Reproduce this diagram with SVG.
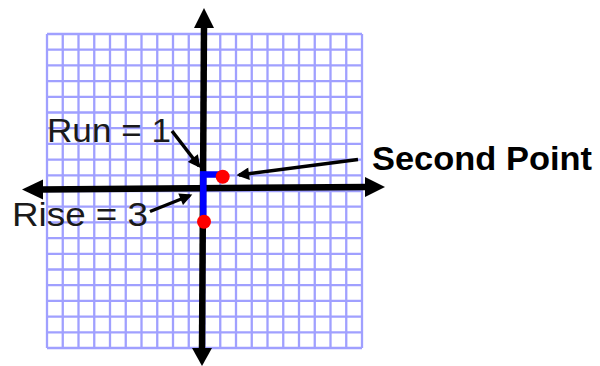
<svg xmlns="http://www.w3.org/2000/svg" width="600" height="366" viewBox="0 0 600 366">
  <style>
    .grid { stroke: #a0a0ff; stroke-width: 2.3; fill: none; }
    .axis { stroke: #000; stroke-width: 6.5; fill: none; }
    .head { fill: #000; }
    .ptr { stroke: #000; stroke-width: 3.5; fill: none; marker-end: url(#ah); }
    .lbl { font-family: "Liberation Sans", Arial, sans-serif; font-size: 33px; fill: #1a1a1a; }
    .bold { font-weight: bold; fill: #000; }
  </style>
  <defs>
    <marker id="ah" viewBox="0 0 10 10" refX="8" refY="5" markerWidth="4" markerHeight="3.6" orient="auto">
      <path d="M0,0 L10,5 L0,10 z" fill="#000"/>
    </marker>
  </defs>
  <rect width="600" height="366" fill="#fff"/>
  <g id="grid">
    <path class="grid" d="M47,34V348 M62.75,34V348 M78.5,34V348 M94.25,34V348 M110,34V348 M125.75,34V348 M141.5,34V348 M157.25,34V348 M173,34V348 M188.75,34V348 M204.5,34V348 M220.25,34V348 M236,34V348 M251.75,34V348 M267.5,34V348 M283.25,34V348 M299,34V348 M314.75,34V348 M330.5,34V348 M346.25,34V348 M362,34V348 M47,34H362 M47,49.7H362 M47,65.4H362 M47,81.1H362 M47,96.8H362 M47,112.5H362 M47,128.2H362 M47,143.9H362 M47,159.6H362 M47,175.3H362 M47,191H362 M47,206.7H362 M47,222.4H362 M47,238.1H362 M47,253.8H362 M47,269.5H362 M47,285.2H362 M47,300.9H362 M47,316.6H362 M47,332.3H362 M47,348H362"/>
  </g>
  <g id="axes">
    <line class="axis" x1="204" y1="26" x2="202" y2="350"/>
    <polygon class="head" points="204,8 214,28 194,28"/>
    <polygon class="head" points="202,366 192,348 212,348"/>
    <line class="axis" x1="40" y1="189.5" x2="368" y2="187"/>
    <polygon class="head" points="22,189.5 43,179.5 43,199.5"/>
    <polygon class="head" points="385,187 365,177 365,197"/>
  </g>
  <g id="run-rise">
    <line x1="200" y1="174.5" x2="222" y2="174.5" stroke="#0000ff" stroke-width="6.5"/>
    <line x1="203.3" y1="171.5" x2="203.3" y2="219" stroke="#0000ff" stroke-width="6.5"/>
  </g>
  <g id="second-point">
    <circle cx="222.7" cy="176.7" r="7" fill="#ff0000"/>
  </g>
  <g id="first-point">
    <circle cx="204" cy="221.7" r="7" fill="#ff0000"/>
  </g>
  <g id="connectors">
    <line class="ptr" x1="172" y1="131" x2="199" y2="166"/>
    <line class="ptr" x1="358" y1="159.5" x2="239" y2="175"/>
    <line class="ptr" x1="150" y1="211.5" x2="190" y2="195.5"/>
  </g>
  <g id="label-run">
    <text class="lbl" x="47" y="141.5" textLength="124" lengthAdjust="spacingAndGlyphs">Run = 1</text>
  </g>
  <g id="label-rise">
    <text class="lbl" x="12" y="226" textLength="136" lengthAdjust="spacingAndGlyphs">Rise = 3</text>
  </g>
  <g id="label-second">
    <text class="lbl bold" x="372" y="170" textLength="220" lengthAdjust="spacingAndGlyphs">Second Point</text>
  </g>
</svg>
